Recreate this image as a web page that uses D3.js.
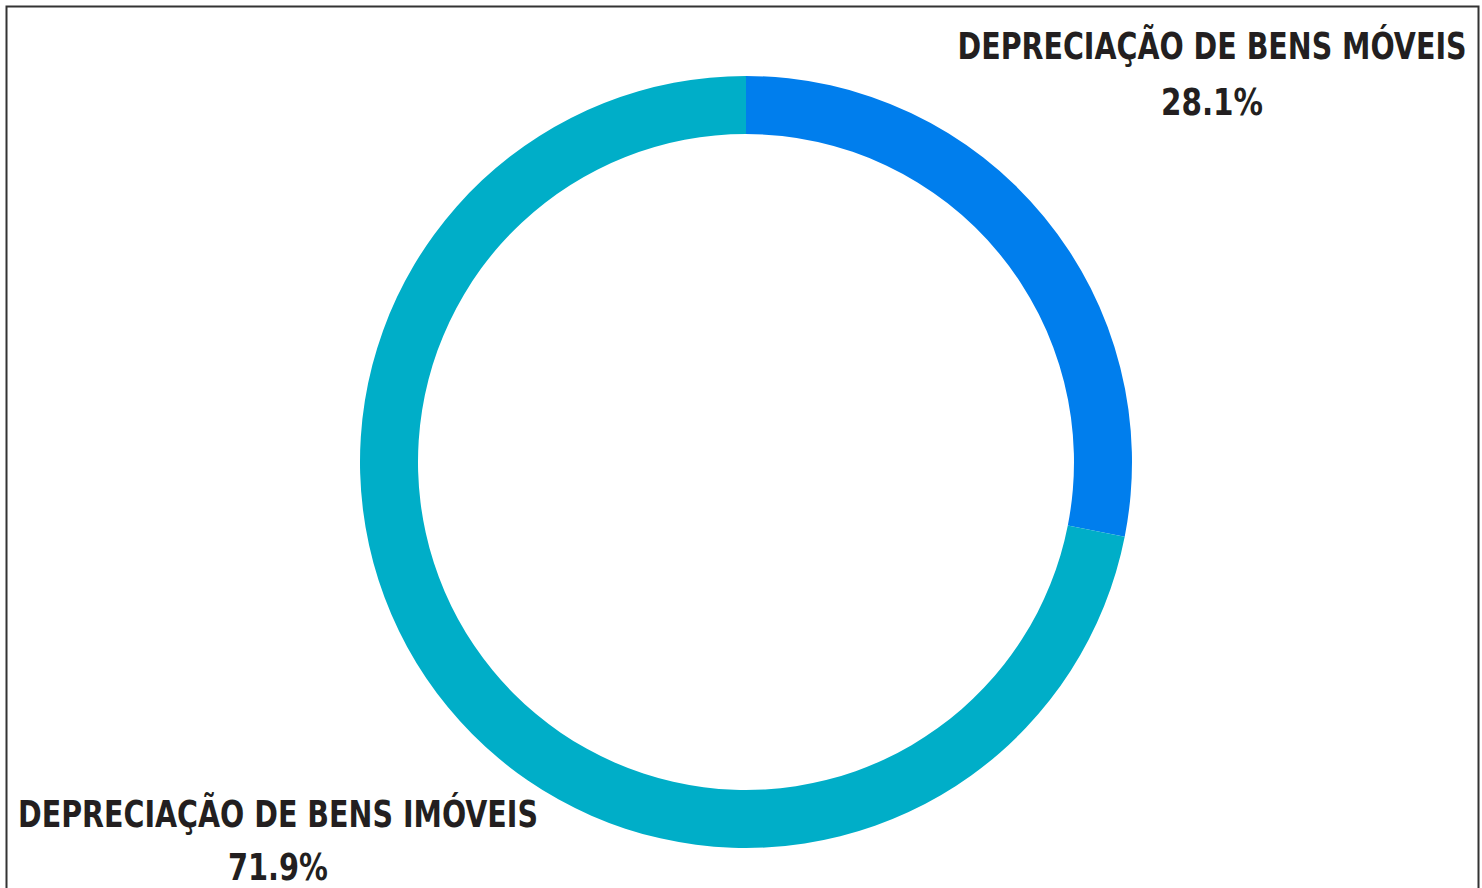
<!DOCTYPE html>
<meta charset="utf-8">
<style>
    body { margin: 0; background: white; }
    svg { display: block; }
    .label { font-family: "Liberation Sans Narrow", "DejaVu Sans Condensed", "Liberation Sans", sans-serif; font-weight: bold; fill: #231f20; }
</style>
<svg width="1482" height="888"></svg>
<script src="https://cdn.jsdelivr.net/npm/d3@7"></script>
<script>
    // data
    var categories = ["DEPRECIAÇÃO DE BENS MÓVEIS", "DEPRECIAÇÃO DE BENS IMÓVEIS"];
    var shares = [28.1, 71.9];
    var colors = ["#007eed", "#00aec8"];

    var svg = d3.select("svg"),
        width = +svg.attr("width"),
        height = +svg.attr("height");

    // frame (bottom edge runs past the window)
    svg.append("rect")
        .attr("x", 6.5).attr("y", 6.5)
        .attr("width", 1472).attr("height", 900)
        .style("fill", "none")
        .style("stroke", "#333")
        .style("stroke-width", 2);

    var cx = 746, cy = 462,
        outer = 386, inner = 328;

    var pie = d3.pie().sort(null).value(function(d) { return d; });
    var arc = d3.arc().innerRadius(inner).outerRadius(outer);

    var data = categories.map(function(c, i) { return { name: c, value: shares[i], color: colors[i] }; });

    var g = svg.append("g")
        .attr("transform", "translate(" + cx + "," + cy + ")");

    g.selectAll("path")
        .data(pie(shares))
        .enter().append("path")
        .attr("d", arc)
        .style("fill", function(d, i) { return colors[i]; });

    // labels: name on first line, percent under it
    var labelPos = [
        { x: 1212, y1: 59, y2: 115, w1: 509, w2: 102 },
        { x: 278, y1: 827, y2: 880, w1: 520, w2: 100 }
    ];

    data.forEach(function(d, i) {
        var p = labelPos[i];
        svg.append("text")
            .attr("class", "label")
            .attr("x", p.x).attr("y", p.y1)
            .attr("text-anchor", "middle")
            .attr("font-size", 38)
            .attr("textLength", p.w1)
            .attr("lengthAdjust", "spacingAndGlyphs")
            .text(d.name);
        svg.append("text")
            .attr("class", "label")
            .attr("x", p.x).attr("y", p.y2)
            .attr("text-anchor", "middle")
            .attr("font-size", 38)
            .attr("textLength", p.w2)
            .attr("lengthAdjust", "spacingAndGlyphs")
            .text(d3.format(".1f")(d.value) + "%");
    });
</script>
